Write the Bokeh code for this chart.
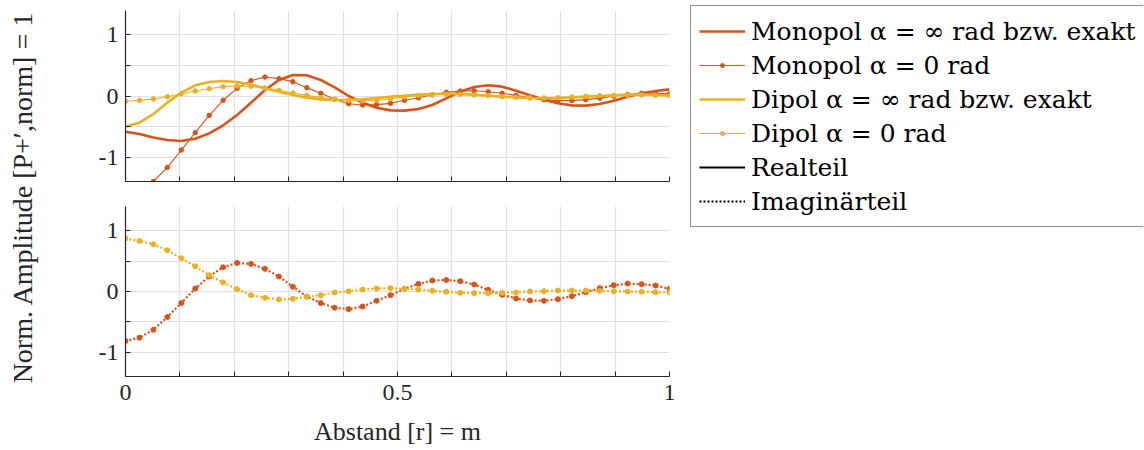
import math
from bokeh.plotting import figure
from bokeh.layouts import row, column
from bokeh.models import Range1d, FixedTicker, Legend, LegendItem, Label
from bokeh.embed import file_html
from bokeh.resources import INLINE

# ---------------- data ----------------
r = [i / 39 for i in range(40)]  # sample positions (m)

mono_exact_re = [-0.585, -0.623, -0.678, -0.721, -0.738, -0.700, -0.612, -0.480, -0.310, -0.109,
                 0.098, 0.262, 0.344, 0.339, 0.262, 0.142, 0.000, -0.109, -0.191, -0.235,
                 -0.240, -0.213, -0.148, -0.038, 0.071, 0.148, 0.175, 0.153, 0.087, 0.011,
                 -0.060, -0.120, -0.153, -0.158, -0.131, -0.077, -0.011, 0.044, 0.082, 0.109]

mono_a0_re = [-1.700, -1.580, -1.400, -1.170, -0.885, -0.600, -0.317, -0.070, 0.126, 0.251,
              0.311, 0.284, 0.235, 0.137, 0.044, -0.055, -0.126, -0.148, -0.142, -0.120,
              -0.070, -0.030, 0.020, 0.060, 0.080, 0.085, 0.070, 0.045, 0.010, -0.030,
              -0.060, -0.075, -0.075, -0.060, -0.035, -0.005, 0.025, 0.045, 0.045, 0.035]

dip_exact_re = [-0.500, -0.437, -0.295, -0.109, 0.055, 0.175, 0.230, 0.246, 0.230, 0.186,
                0.126, 0.071, 0.016, -0.027, -0.055, -0.066, -0.066, -0.055, -0.033, -0.011,
                0.005, 0.022, 0.033, 0.038, 0.033, 0.022, 0.005, -0.011, -0.022, -0.033,
                -0.038, -0.033, -0.022, -0.011, 0.000, 0.011, 0.022, 0.022, 0.016, 0.011]

dip_a0_re = [-0.087, -0.071, -0.049, -0.011, 0.038, 0.082, 0.120, 0.153, 0.164, 0.158,
             0.131, 0.093, 0.049, 0.011, -0.027, -0.055, -0.071, -0.077, -0.071, -0.045,
             -0.015, 0.008, 0.022, 0.030, 0.027, 0.016, 0.005, -0.011, -0.022, -0.027,
             -0.033, -0.027, -0.016, -0.005, 0.005, 0.011, 0.016, 0.016, 0.011, 0.005]

mono_im = [-0.816, -0.760, -0.630, -0.420, -0.190, 0.049, 0.247, 0.400, 0.470, 0.455,
           0.373, 0.247, 0.077, -0.082, -0.190, -0.268, -0.290, -0.247, -0.153, -0.060,
           0.044, 0.126, 0.180, 0.190, 0.170, 0.115, 0.027, -0.055, -0.115, -0.148,
           -0.153, -0.126, -0.077, -0.011, 0.055, 0.104, 0.130, 0.120, 0.099, 0.044]

dip_im = [0.871, 0.833, 0.778, 0.680, 0.548, 0.416, 0.268, 0.148, 0.038, -0.060,
          -0.104, -0.130, -0.120, -0.088, -0.060, -0.016, 0.005, 0.033, 0.049, 0.055,
          0.044, 0.033, 0.011, -0.005, -0.022, -0.027, -0.027, -0.022, -0.016, 0.000,
          0.005, 0.016, 0.016, 0.016, 0.011, 0.005, 0.000, -0.005, -0.011, -0.016]

x_grid = [0, 0.1, 0.2, 0.3, 0.4, 0.5, 0.6, 0.7, 0.8, 0.9, 1]
x_labelled = [0, 0.5, 1]
y_grid = [-1, -0.5, 0, 0.5, 1]
y_labelled = [-1, 0, 1]
y_tick_text = {-1: "-1", 0: "0", 1: "1"}

legend_labels = ["Monopol α = ∞ rad bzw. exakt", "Monopol α = 0 rad",
                 "Dipol α = ∞ rad bzw. exakt", "Dipol α = 0 rad",
                 "Realteil", "Imaginärteil"]
x_label = "Abstand [r] = m"
y_label = "Norm. Amplitude [P+′,norm] = 1"

# ---------------- style ----------------
MONO = "#D95319"
DIP = "#EDB120"
AX = "#262626"
GRID = "#E0E0E0"
FONT = "Liberation Serif"
LFONT = "DejaVu Serif"


def make_panel(height, top_border, bottom_border, show_x):
    p = figure(width=633, height=height, x_range=Range1d(0, 1), y_range=Range1d(-1.4, 1.4),
               output_backend="svg", toolbar_location=None,
               min_border_left=77, min_border_right=12,
               min_border_top=top_border, min_border_bottom=bottom_border)
    p.outline_line_color = None
    x_minor = [t for t in x_grid if t not in x_labelled]
    if show_x:
        p.xaxis.ticker = FixedTicker(ticks=x_labelled, minor_ticks=x_minor)
    else:
        p.xaxis.ticker = FixedTicker(ticks=[], minor_ticks=x_grid)
    p.xgrid.ticker = FixedTicker(ticks=x_grid)
    p.yaxis.ticker = FixedTicker(ticks=y_labelled,
                                 minor_ticks=[t for t in y_grid if t not in y_labelled])
    p.ygrid.ticker = FixedTicker(ticks=y_grid)
    p.yaxis.major_label_overrides = y_tick_text
    p.axis.axis_line_color = AX
    p.axis.axis_line_width = 1.2
    p.axis.major_tick_in = 5
    p.axis.major_tick_out = 0
    p.axis.minor_tick_in = 5
    p.axis.minor_tick_out = 0
    p.axis.major_tick_line_color = AX
    p.axis.minor_tick_line_color = AX
    p.axis.major_label_text_font = FONT
    p.axis.major_label_text_font_size = "24px"
    p.axis.major_label_text_color = AX
    p.yaxis.major_label_standoff = 7
    p.xaxis.major_label_standoff = 8
    p.grid.grid_line_color = GRID
    p.grid.grid_line_width = 1.2
    return p


top = make_panel(193, 10, 12, False)
bot = make_panel(256, 13, 73, True)
bot.xaxis.axis_label = x_label
bot.xaxis.axis_label_text_font = FONT
bot.xaxis.axis_label_text_font_size = "26px"
bot.xaxis.axis_label_text_font_style = "normal"
bot.xaxis.axis_label_text_color = AX
bot.xaxis.axis_label_standoff = 14

# top panel: real parts
top.line(r, mono_exact_re, line_color=MONO, line_width=2.6)
top.line(r, mono_a0_re, line_color=MONO, line_width=1.1)
top.scatter(r, mono_a0_re, marker="circle", size=4.5, fill_color=MONO, line_color=MONO)
top.line(r, dip_exact_re, line_color=DIP, line_width=2.6)
top.line(r, dip_a0_re, line_color=DIP, line_width=1.1)
top.scatter(r, dip_a0_re, marker="circle", size=4.5, fill_color=DIP, line_color=DIP)

# bottom panel: imaginary parts
bot.line(r, mono_im, line_color=MONO, line_width=2.2, line_dash="2 2")
bot.scatter(r, mono_im, marker="circle", size=5, fill_color=MONO, line_color=MONO)
bot.line(r, dip_im, line_color=DIP, line_width=2.2, line_dash="2 2")
bot.scatter(r, dip_im, marker="circle", size=5, fill_color=DIP, line_color=DIP)

# y label panel
lab = figure(width=48, height=449, x_range=Range1d(0, 1), y_range=Range1d(0, 1),
             output_backend="svg", toolbar_location=None,
             min_border_left=0, min_border_right=0, min_border_top=0, min_border_bottom=0,
             x_axis_location=None, y_axis_location=None)
lab.outline_line_color = None
lab.grid.visible = False
lab.add_layout(Label(x=0.46, y=0.568, text=y_label, angle=math.pi / 2,
                     text_align="center", text_baseline="middle",
                     text_font=FONT, text_font_size="28px", text_color=AX))

# legend panel (legend samples reuse the data, drawn outside the visible range)
leg = figure(width=462, height=232, x_range=Range1d(10, 11), y_range=Range1d(10, 11),
             output_backend="svg", toolbar_location=None,
             min_border_left=9, min_border_top=5, min_border_right=0, min_border_bottom=0,
             x_axis_location=None, y_axis_location=None)
leg.outline_line_color = None
leg.grid.visible = False
g1 = leg.line(r, mono_exact_re, line_color=MONO, line_width=2.6)
g2a = leg.line(r, mono_a0_re, line_color=MONO, line_width=1.1)
g2b = leg.scatter(r, mono_a0_re, marker="circle", size=4, fill_color=MONO, line_color=MONO)
g3 = leg.line(r, dip_exact_re, line_color=DIP, line_width=2.6)
g4a = leg.line(r, dip_a0_re, line_color=DIP, line_width=1.1)
g4b = leg.scatter(r, dip_a0_re, marker="circle", size=4, fill_color=DIP, line_color=DIP)
g5 = leg.line(r, mono_exact_re, line_color="#000000", line_width=2)
g6 = leg.line(r, mono_im, line_color="#000000", line_width=2, line_dash="2 2")
items = [LegendItem(label=legend_labels[0], renderers=[g1]),
         LegendItem(label=legend_labels[1], renderers=[g2a, g2b]),
         LegendItem(label=legend_labels[2], renderers=[g3]),
         LegendItem(label=legend_labels[3], renderers=[g4a, g4b]),
         LegendItem(label=legend_labels[4], renderers=[g5]),
         LegendItem(label=legend_labels[5], renderers=[g6])]
legend = Legend(items=items, location="top_left")
legend.margin = 0
legend.padding = 8
legend.spacing = 0
legend.glyph_width = 46
legend.glyph_height = 10
legend.label_height = 34
legend.label_standoff = 6
legend.label_text_font = LFONT
legend.label_text_font_size = "25px"
legend.label_text_color = "#000000"
legend.label_text_baseline = "middle"
legend.border_line_color = AX
legend.border_line_width = 1
legend.background_fill_color = "white"
legend.background_fill_alpha = 1
leg.add_layout(legend)

layout = row(lab, column(top, bot), leg)

open("out.html", "w").write(file_html(layout, INLINE))
